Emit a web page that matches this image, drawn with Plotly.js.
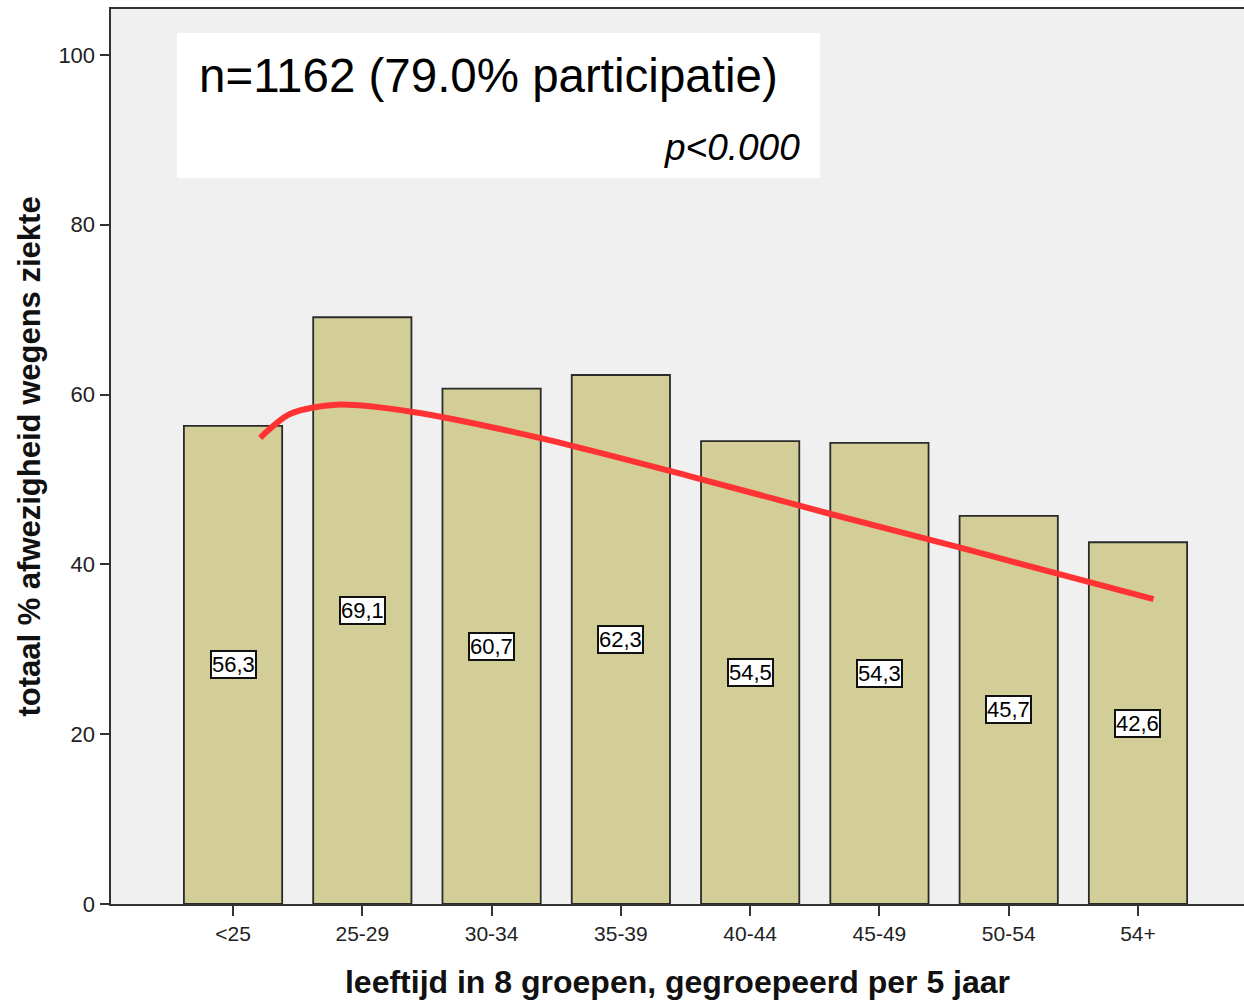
<!DOCTYPE html>
<html>
<head>
<meta charset="utf-8">
<script src="https://cdn.plot.ly/plotly-3.0.1.min.js"></script>
<style>html,body{margin:0;padding:0;background:#fff;}#chart{width:1244px;height:1000px;}</style>
</head>
<body>
<div id="chart"></div>
<script>
// Data
const categories = ["<25", "25-29", "30-34", "35-39", "40-44", "45-49", "50-54", "54+"];
const values = [56.3, 69.1, 60.7, 62.3, 54.5, 54.3, 45.7, 42.6];
// Fitted curve (x in category positions, y in %)
const fitX = [0.21, 0.44, 0.80, 1.39, 2.37, 3.53, 4.63, 5.64, 7.12];
const fitY = [54.9, 57.7, 58.8, 57.95, 54.9, 50.4, 45.9, 41.9, 35.9];
const yTicks = [0, 20, 40, 60, 80, 100];
const annotationMain = "n=1162 (79.0% participatie)";
const annotationP = "p<0.000";
const xTitle = "leeftijd in 8 groepen, gegroepeerd per 5 jaar";
const yTitle = "totaal % afwezigheid wegens ziekte";

const xIdx = categories.map((c, i) => i);
const FONT = 'Arial, Liberation Sans, sans-serif';

const bars = {
  type: 'bar',
  x: xIdx,
  y: values,
  width: 0.76,
  marker: {color: '#d3ce97', line: {color: '#2b2b2b', width: 1.8}},
  hoverinfo: 'skip',
  showlegend: false
};
const fit = {
  type: 'scatter',
  mode: 'lines',
  x: fitX,
  y: fitY,
  line: {color: '#ff3333', width: 6, shape: 'spline', smoothing: 0.8},
  hoverinfo: 'skip',
  showlegend: false
};

const labelAnns = values.map((v, i) => ({
  x: i, y: v / 2, xref: 'x', yref: 'y',
  text: v.toFixed(1).replace('.', ','),
  showarrow: false,
  font: {family: FONT, size: 22, color: '#000'},
  bgcolor: '#ffffff', bordercolor: '#111111', borderwidth: 2, borderpad: 0
}));

const layout = {
  width: 1244, height: 1000,
  margin: {l: 111, r: 0, t: 9, b: 96},
  paper_bgcolor: '#ffffff',
  plot_bgcolor: '#f0f0f0',
  font: {family: FONT, color: '#222'},
  xaxis: {
    range: [-0.944, 7.82],
    tickmode: 'array', tickvals: xIdx, ticktext: categories,
    ticks: 'outside', ticklen: 10, tickwidth: 2, tickcolor: '#333',
    tickfont: {size: 21, color: '#222'},
    showline: true, linecolor: '#333', linewidth: 2, mirror: true,
    showgrid: false, zeroline: false, fixedrange: true,
    title: {text: '<b>' + xTitle + '</b>', font: {size: 32, color: '#111'}, standoff: 26}
  },
  yaxis: {
    range: [0, 105.4],
    tickmode: 'array', tickvals: yTicks,
    ticks: 'outside', ticklen: 9, tickwidth: 2, tickcolor: '#333',
    tickfont: {size: 22, color: '#222'},
    showline: true, linecolor: '#333', linewidth: 2.5,
    showgrid: false, zeroline: false, fixedrange: true,
    title: {text: '<b>' + yTitle + '</b>', font: {size: 31, color: '#111'}, standoff: 9}
  },
  shapes: [{
    type: 'rect', xref: 'paper', yref: 'paper',
    x0: 0.0583, x1: 0.6258, y0: 0.8112, y1: 0.9732,
    fillcolor: '#ffffff', line: {width: 0}, layer: 'below'
  }],
  annotations: labelAnns.concat([
    {xref: 'paper', yref: 'paper', x: 0.0759, y: 0.926, xanchor: 'left', yanchor: 'middle',
     text: annotationMain, showarrow: false,
     font: {family: FONT, size: 47.5, color: '#000'}},
    {xref: 'paper', yref: 'paper', x: 0.6099, y: 0.8447, xanchor: 'right', yanchor: 'middle',
     text: '<i>' + annotationP + '</i>', showarrow: false,
     font: {family: FONT, size: 37, color: '#000'}}
  ])
};

Plotly.newPlot('chart', [bars, fit], layout, {displayModeBar: false, staticPlot: true});
</script>
</body>
</html>
